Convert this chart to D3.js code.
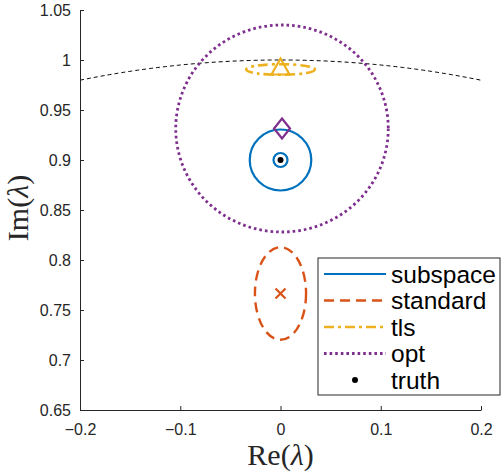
<!DOCTYPE html>
<html>
<head>
<meta charset="utf-8">
<script src="https://cdn.jsdelivr.net/npm/d3@7"></script>
<style>
  body { margin: 0; background: #fff; }
  #chart { width: 504px; height: 472px; }
  .tick text { font-family: "Liberation Sans", Arial, sans-serif; font-size: 16px; fill: #262626; }
  .axisLabel { font-family: "Liberation Serif", "DejaVu Serif", serif; font-size: 30px; fill: #262626; }
  .legendLabel { font-family: "Liberation Sans", Arial, sans-serif; font-size: 24.5px; fill: #000; }
</style>
</head>
<body>
<div id="chart"></div>
<script>
// estimates: centre and half-widths of the confidence ellipses
const names = ["subspace", "standard", "tls", "opt"];
const colors = ["#0072BD", "#D95319", "#EDB120", "#7E2F8E"];
const centerRe = [0, 0, 0, 0.0015];
const centerIm = [0.9, 0.7665, 0.9905, 0.9315];
const radiusRe = [0.0307, 0.0255, 0.0343, 0.106];
const radiusIm = [0.0305, 0.0463, 0.0053, 0.1035];
const markerIm = [0.9, 0.7665, 0.9915, 0.9315];

// true eigenvalue
const truthRe = 0;
const truthIm = 0.9;

// unit circle (reference)
const unitRadius = 1;

const xTicks = [-0.2, -0.1, 0, 0.1, 0.2];
const yTicks = [0.65, 0.7, 0.75, 0.8, 0.85, 0.9, 0.95, 1, 1.05];

const width = 504;
const height = 472;
const margin = { top: 10, left: 80, right: 23, bottom: 62 };

const svg = d3.select("#chart")
    .append("svg")
    .attr("width", width)
    .attr("height", height);

const xScale = d3.scaleLinear()
    .domain([-0.2, 0.2])
    .range([margin.left, width - margin.right]);

const yScale = d3.scaleLinear()
    .domain([0.65, 1.05])
    .range([height - margin.bottom, margin.top]);

const dashes = ["none", "10,6", "10,4,3,4", "2.6,3"];
const widths = [2.2, 2.4, 2.6, 2.8];

// unit circle arc, dashed black
const angles = d3.range(0, 201).map(i => Math.asin(0.2) * (2 * i / 200 - 1));
svg.append("path")
    .attr("d", d3.line()
        .x(a => xScale(unitRadius * Math.sin(a)))
        .y(a => yScale(unitRadius * Math.cos(a)))(angles))
    .attr("fill", "none")
    .attr("stroke", "#000")
    .attr("stroke-width", 1)
    .attr("stroke-dasharray", "4,3");

// ellipses
svg.selectAll(".ellipse")
    .data(names)
    .enter()
    .append("ellipse")
    .attr("class", "ellipse")
    .attr("cx", (d, i) => xScale(centerRe[i]))
    .attr("cy", (d, i) => yScale(centerIm[i]))
    .attr("rx", (d, i) => xScale(centerRe[i] + radiusRe[i]) - xScale(centerRe[i]))
    .attr("ry", (d, i) => yScale(centerIm[i]) - yScale(centerIm[i] + radiusIm[i]))
    .attr("fill", "none")
    .attr("stroke", (d, i) => colors[i])
    .attr("stroke-width", (d, i) => widths[i])
    .attr("stroke-dasharray", (d, i) => dashes[i]);

// markers for each estimate
const markerPaths = [
    "M7,0A7,7 0 1,1 -7,0A7,7 0 1,1 7,0Z",
    "M-5,-5L5,5M-5,5L5,-5",
    "M0,-10L9,6L-9,6Z",
    "M0,-10L8,0L0,10L-8,0Z"
];

svg.selectAll(".marker")
    .data(names)
    .enter()
    .append("path")
    .attr("class", "marker")
    .attr("transform", (d, i) => `translate(${xScale(centerRe[i])},${yScale(markerIm[i])})`)
    .attr("d", (d, i) => markerPaths[i])
    .attr("fill", "none")
    .attr("stroke", (d, i) => colors[i])
    .attr("stroke-width", 2.2);

svg.append("circle")
    .attr("cx", xScale(truthRe))
    .attr("cy", yScale(truthIm))
    .attr("r", 3)
    .attr("fill", "#000");

// axes, ticks pointing inward, no box
const xAxis = svg.append("g")
    .attr("transform", `translate(0,${height - margin.bottom})`)
    .call(d3.axisTop(xScale).tickValues(xTicks).tickSize(4).tickSizeOuter(0).tickFormat(d => d3.format("")(d).replace("-", "\u2212")));
xAxis.selectAll(".tick text").attr("y", 22).attr("dy", "0.71em").attr("transform", "translate(0,-8)");

const yAxis = svg.append("g")
    .attr("transform", `translate(${margin.left},0)`)
    .call(d3.axisRight(yScale).tickValues(yTicks).tickSize(4).tickSizeOuter(0).tickFormat(d3.format("")));
yAxis.selectAll(".tick text").attr("x", -9).attr("text-anchor", "end");

svg.selectAll(".domain, .tick line").attr("stroke", "#262626").attr("stroke-width", 1);

// axis labels
const xLabel = svg.append("text")
    .attr("class", "axisLabel")
    .attr("x", xScale(0))
    .attr("y", 465)
    .attr("text-anchor", "middle");
xLabel.append("tspan").text("Re(");
xLabel.append("tspan").attr("font-style", "italic").text("λ");
xLabel.append("tspan").text(")");

const yLabel = svg.append("text")
    .attr("class", "axisLabel")
    .attr("transform", `translate(28,${yScale(0.85) - 2}) rotate(-90)`)
    .attr("text-anchor", "middle");
yLabel.append("tspan").text("Im(");
yLabel.append("tspan").attr("font-style", "italic").text("λ");
yLabel.append("tspan").text(")");

// legend
const legend = svg.append("g").attr("transform", "translate(318,258)");
legend.append("rect")
    .attr("width", 182)
    .attr("height", 137)
    .attr("fill", "#fff")
    .attr("stroke", "#262626")
    .attr("stroke-width", 1);

legend.selectAll(".legendLine")
    .data(names)
    .enter()
    .append("line")
    .attr("x1", 6)
    .attr("x2", 68)
    .attr("y1", (d, i) => 16 + i * 26.5)
    .attr("y2", (d, i) => 16 + i * 26.5)
    .attr("stroke", (d, i) => colors[i])
    .attr("stroke-width", (d, i) => widths[i])
    .attr("stroke-dasharray", (d, i) => dashes[i]);

legend.append("circle")
    .attr("cx", 37)
    .attr("cy", 16 + 4 * 26.5)
    .attr("r", 3)
    .attr("fill", "#000");

legend.selectAll(".legendLabel")
    .data(names.concat(["truth"]))
    .enter()
    .append("text")
    .attr("class", "legendLabel")
    .attr("x", 73)
    .attr("y", (d, i) => 16 + i * 26.5)
    .attr("dy", "0.36em")
    .text(d => d);
</script>
</body>
</html>
